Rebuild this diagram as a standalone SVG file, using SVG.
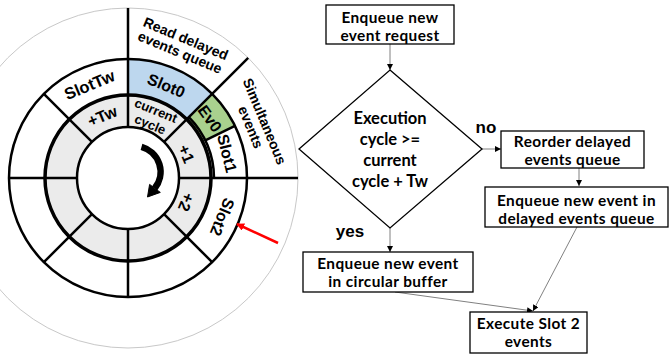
<svg xmlns="http://www.w3.org/2000/svg" width="669" height="354" viewBox="0 0 669 354">
<style>
.ring{fill:none;stroke:#000}
.rad{stroke:#000;stroke-width:2.5;fill:none}
.ct{font-family:"Liberation Sans",Arial,sans-serif;font-weight:bold;fill:#000;text-anchor:middle;dominant-baseline:central}
.fb{fill:#fff;stroke:#000;stroke-width:1.3}
.ft{font-family:Lato,"Open Sans",sans-serif;font-weight:bold;font-size:15.4px;letter-spacing:0.4px;fill:#000;text-anchor:middle}
.dt{font-size:16.5px;letter-spacing:0}
.lbl{font-family:"Liberation Sans",Arial,sans-serif;font-weight:bold;font-size:17px;fill:#000;text-anchor:middle}
.con{stroke:#808080;stroke-width:1;fill:none}
</style>
<defs>
<marker id="ah" viewBox="0 0 10 10" refX="10" refY="5" markerWidth="6" markerHeight="6" markerUnits="userSpaceOnUse" orient="auto"><path d="M0,0 L10,5 L0,10 Z" fill="#000"/></marker>
<marker id="ahr" viewBox="0 0 10 10" refX="9" refY="5" markerWidth="8" markerHeight="8" markerUnits="userSpaceOnUse" orient="auto"><path d="M0,0 L10,5 L0,10 Z" fill="#f00"/></marker>
</defs>
<rect width="669" height="354" fill="#fff"/>

<g id="buffer">
<circle cx="128" cy="178" r="170" fill="none" stroke="#c8c8c8" stroke-width="1"/>
<circle cx="128" cy="178" r="67" fill="none" stroke="#ebebeb" stroke-width="32"/>
<path id="slot0-fill" d="M128,59 A119,119 0 0 1 212.15,93.85 L186.69,119.31 A83,83 0 0 0 128,95 Z" fill="#bdd7ee"/>
<path id="ev0-fill" d="M212.15,93.85 A119,119 0 0 1 234.96,125.83 L202.6,141.61 A83,83 0 0 0 186.69,119.31 Z" fill="#a9d18e"/>
<circle class="ring" cx="128" cy="178" r="51" stroke-width="2.5"/>
<circle class="ring" cx="128" cy="178" r="83" stroke-width="3.5"/>
<circle class="ring" cx="128" cy="178" r="119" stroke-width="2.5"/>
<path d="M188.81,117.19 A86,86 0 0 1 214,178" class="rad" stroke-width="6"/>
<line class="rad" x1="205.3" y1="140.3" x2="234.96" y2="125.83" stroke-width="3"/>
<line class="rad" x1="128" y1="127" x2="128" y2="8"/>
<line class="rad" x1="164.06" y1="141.94" x2="248.21" y2="57.79"/>
<line class="rad" x1="179" y1="178" x2="298" y2="178"/>
<line class="rad" x1="164.06" y1="214.06" x2="212.15" y2="262.15"/>
<line class="rad" x1="128" y1="229" x2="128" y2="297"/>
<line class="rad" x1="91.94" y1="214.06" x2="43.85" y2="262.15"/>
<line class="rad" x1="77" y1="178" x2="9" y2="178"/>
<line class="rad" x1="91.94" y1="141.94" x2="43.85" y2="93.85"/>
<path d="M141.5,146.9 A26,26 0 0 1 154.7,188.4" fill="none" stroke="#000" stroke-width="6.5"/>
<path d="M160.3,192.4 L149.6,184.4 L147.5,197 Z" fill="#000" stroke="#000" stroke-width="1"/>
<text class="ct" font-size="14" x="128" y="27" transform="rotate(22.5 128 178)">Read delayed</text>
<text class="ct" font-size="14" x="128" y="42" transform="rotate(22.5 128 178)">events queue</text>
<text class="ct" font-size="14" x="128" y="30" transform="rotate(67.5 128 178)">Simultaneous</text>
<text class="ct" font-size="14" x="128" y="45" transform="rotate(67.5 128 178)">events</text>
<text class="ct" font-size="16.5" x="128" y="77" transform="rotate(-22.5 128 178)">SlotTw</text>
<text class="ct" font-size="16" x="128" y="78" transform="rotate(22.5 128 178)">Slot0</text>
<text class="ct" font-size="16" x="128" y="77" transform="rotate(54 128 178)">Ev0</text>
<text class="ct" font-size="16" x="128" y="76" transform="rotate(76 128 178)">Slot1</text>
<text class="ct" font-size="16" x="128" y="76" transform="rotate(112.5 128 178)">Slot2</text>
<text class="ct" font-size="16" x="128" y="111" transform="rotate(-22.5 128 178)">+Tw</text>
<text class="ct" font-size="13" x="128" y="105" transform="rotate(22.5 128 178)">current</text>
<text class="ct" font-size="13" x="128" y="120" transform="rotate(22.5 128 178)">cycle</text>
<text class="ct" font-size="16" x="128" y="115" transform="rotate(67.5 128 178)">+1</text>
<text class="ct" font-size="16" x="128" y="115" transform="rotate(112.5 128 178)">+2</text>
<line x1="278" y1="243" x2="237" y2="224" stroke="#f00" stroke-width="2.5" marker-end="url(#ahr)"/>
</g>

<g id="connectors">
<line class="con" x1="390" y1="44" x2="390" y2="70" marker-end="url(#ah)"/>
<line class="con" x1="482" y1="149" x2="501" y2="149" marker-end="url(#ah)"/>
<line class="con" x1="579" y1="168" x2="579" y2="186" marker-end="url(#ah)"/>
<line class="con" x1="390" y1="228" x2="390" y2="252" marker-end="url(#ah)"/>
<line class="con" x1="395" y1="292" x2="533" y2="311" marker-end="url(#ah)"/>
<line class="con" x1="577" y1="227" x2="533" y2="311" marker-end="url(#ah)"/>
</g>

<g id="n1">
<rect class="fb" x="326" y="5" width="128" height="39"/>
<text class="ft" x="390" y="22.5">Enqueue new</text>
<text class="ft" x="390" y="41">event request</text>
</g>
<g id="n2">
<path class="fb" d="M390,70 L482,149 L390,228 L299,149 Z" stroke-width="1"/>
<text class="ft dt" x="390" y="124">Execution</text>
<text class="ft dt" x="390" y="145">cycle &gt;=</text>
<text class="ft dt" x="390" y="166">current</text>
<text class="ft dt" x="390" y="187">cycle + Tw</text>
</g>
<g id="n3">
<rect class="fb" x="501" y="131" width="143" height="37"/>
<text class="ft" x="572.5" y="146.5">Reorder delayed</text>
<text class="ft" x="572.5" y="165">events queue</text>
</g>
<g id="n4">
<rect class="fb" x="485" y="187" width="183" height="40"/>
<text class="ft" x="576.5" y="205.5">Enqueue new event in</text>
<text class="ft" x="576.5" y="224">delayed events queue</text>
</g>
<g id="n5">
<rect class="fb" x="303" y="252" width="170" height="40"/>
<text class="ft" x="388" y="268.5">Enqueue new event</text>
<text class="ft" x="388" y="287">in circular buffer</text>
</g>
<g id="n6">
<rect class="fb" x="470" y="312" width="117" height="41"/>
<text class="ft" x="528.5" y="328.5">Execute Slot 2</text>
<text class="ft" x="528.5" y="347">events</text>
</g>
<text class="lbl" x="486" y="133">no</text>
<text class="lbl" x="350" y="237">yes</text>
</svg>
